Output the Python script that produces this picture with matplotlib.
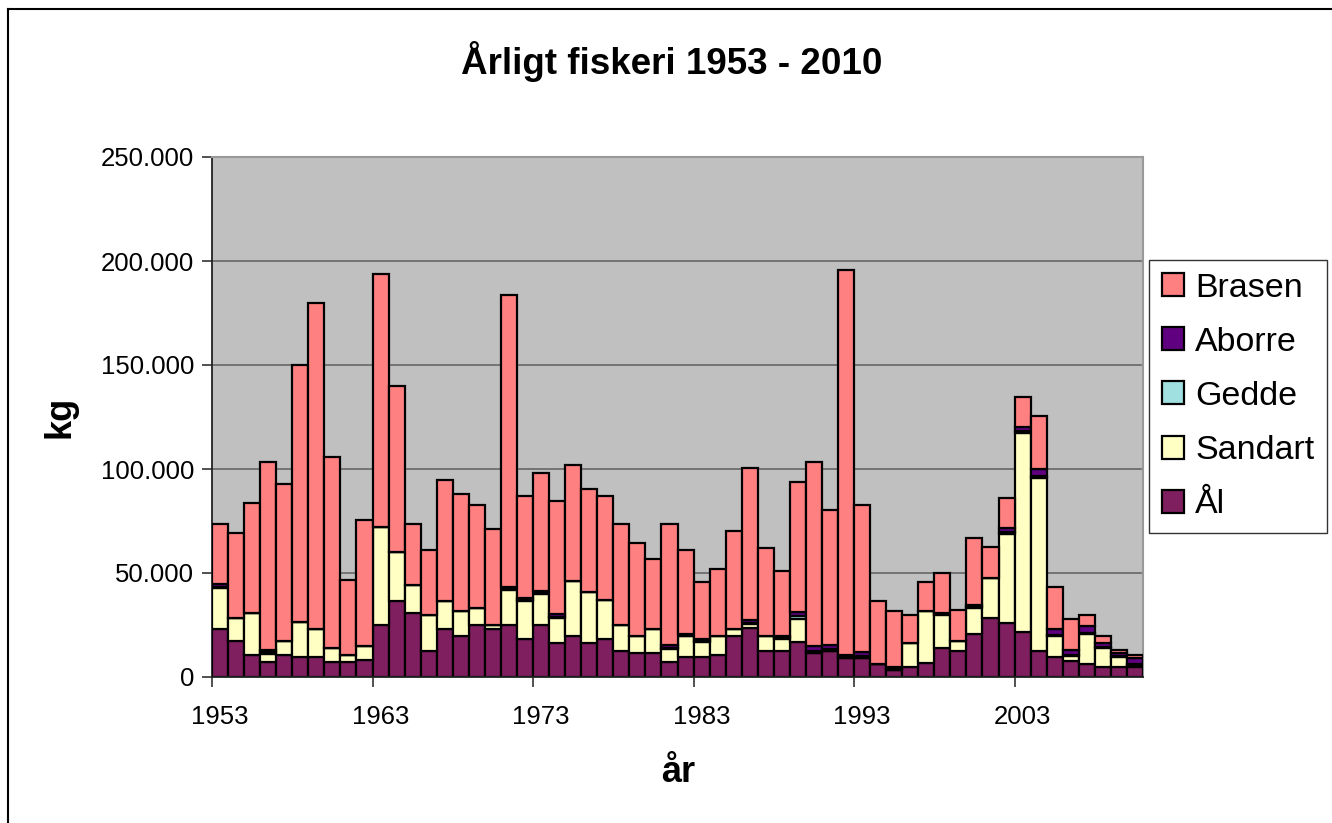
import matplotlib
matplotlib.use("Agg")
import matplotlib.pyplot as plt
import numpy as np
from matplotlib.ticker import FuncFormatter, FixedLocator
from matplotlib.lines import Line2D

plt.rcParams['font.family'] = ['Liberation Sans', 'DejaVu Sans']

years = list(range(1953, 2011))

al = [23100, 17400, 10400, 7100, 10400, 9600, 9600, 7100, 7100, 8300,
      25100, 36700, 30600, 12400, 23100, 19800, 25100, 23100, 25100, 18500,
      25100, 16500, 19800, 16500, 18200, 12400, 11600, 11600, 7100, 9400,
      9400, 10600, 19500, 23600, 12400, 12400, 16900, 11600, 12400, 9100,
      9100, 6300, 3600, 5000, 6900, 14000, 12400, 20700, 28600, 26100,
      21500, 12400, 9600, 7900, 6300, 5000, 5000, 5000]
sandart = [19900, 11200, 20500, 4100, 7000, 16800, 13500, 6900, 3600, 6600,
           47100, 23600, 13500, 17400, 13300, 11900, 8000, 2000, 16600, 17900,
           14600, 11900, 26500, 24300, 19000, 12400, 7900, 11500, 6500, 10100,
           7600, 9200, 3600, 2000, 7400, 5800, 11200, 0, 0, 0,
           0, 0, 0, 11200, 25000, 15800, 5000, 12400, 18800, 42800,
           95900, 83500, 10200, 2000, 14400, 9000, 4600, 800]
gedde = [500, 0, 0, 600, 0, 0, 0, 0, 0, 0,
         0, 0, 0, 0, 0, 0, 0, 0, 500, 500,
         500, 500, 0, 0, 0, 0, 0, 0, 500, 400,
         500, 0, 0, 500, 0, 400, 1000, 1000, 900, 500,
         900, 0, 400, 0, 0, 400, 0, 400, 0, 900,
         900, 600, 500, 500, 500, 400, 300, 400]
aborre = [1000, 0, 0, 1400, 0, 0, 0, 0, 0, 0,
          0, 0, 0, 0, 0, 0, 0, 0, 1100, 1100,
          1100, 1200, 0, 0, 0, 0, 0, 0, 1100, 900,
          1000, 0, 0, 1200, 0, 900, 2000, 2300, 1900, 1100,
          1900, 0, 1000, 0, 0, 700, 0, 900, 0, 1800,
          2000, 3500, 2800, 2800, 3100, 2100, 1700, 2900]
brasen = [29000, 40400, 52900, 90400, 75200, 123600, 156900, 92000, 35900, 60600,
          121500, 79400, 29400, 31400, 58300, 56400, 49500, 46000, 140200, 48800,
          56700, 54700, 55400, 49600, 49900, 48700, 45000, 33400, 58300, 40400,
          27000, 32300, 47100, 73200, 42200, 31700, 62600, 88700, 65000, 185200,
          70700, 30400, 26900, 13600, 13900, 19200, 14800, 32200, 14900, 14400,
          14100, 25300, 20200, 14600, 5500, 3300, 1600, 1600]

series_names = ['Ål', 'Sandart', 'Gedde', 'Aborre', 'Brasen']
series_vals = [al, sandart, gedde, aborre, brasen]
colors = ['#801F60', '#FFFFC4', '#A0E0E0', '#600080', '#FF8080']

title = 'Årligt fiskeri 1953 - 2010'
xlabel_txt = 'år'
ylabel_txt = 'kg'
label_years = [1953, 1963, 1973, 1983, 1993, 2003]

fig = plt.figure(figsize=(13.32, 8.23), dpi=100)
ax = fig.add_axes([212/1332, 1-677/823, (1143-212)/1332, (677-157)/823])
ax.set_facecolor('#C0C0C0')

x = np.arange(len(years))
bottom = np.zeros(len(years))
handles = []
for name, vals, col in zip(series_names, series_vals, colors):
    v = np.array(vals, dtype=float)
    b = ax.bar(x, v, width=1.0, bottom=bottom, color=col, edgecolor='black',
               linewidth=1.6, label=name, zorder=3)
    handles.append(b)
    bottom += v

ax.set_xlim(-0.5, len(years) - 0.5)
ax.set_ylim(0, 250000)
ax.yaxis.set_major_locator(FixedLocator([0, 50000, 100000, 150000, 200000, 250000]))
ax.yaxis.set_major_formatter(FuncFormatter(lambda v, p: f"{int(v):,}".replace(",", ".")))
ax.grid(axis='y', color='#666666', linewidth=1.2, zorder=1)

lab_pos = [years.index(y) for y in label_years]
ax.set_xticks(lab_pos)
ax.set_xticklabels([str(y) for y in label_years])
ax.set_xticks([p - 0.5 for p in lab_pos], minor=True)
ax.tick_params(axis='x', which='major', length=0, pad=20, labelsize=18.5)
ax.tick_params(axis='x', which='minor', length=7, width=1.2, color='#333333')
ax.tick_params(axis='y', which='major', length=7, width=1.2, labelsize=18.5, pad=6, color='#333333')

for s in ['left', 'bottom']:
    ax.spines[s].set_color('#222222')
    ax.spines[s].set_linewidth(1.3)
for s in ['top', 'right']:
    ax.spines[s].set_color('#999999')
    ax.spines[s].set_linewidth(1.5)
ax.spines['bottom'].set_zorder(5)

fig.text(672/1332, 1-62/823, title, ha='center', va='center', fontsize=26.5, fontweight='bold')
fig.text(60/1332, 1-417/823, ylabel_txt, ha='center', va='center', fontsize=26, fontweight='bold', rotation=90)
fig.text(678/1332, 1-773/823, xlabel_txt, ha='center', va='center', fontsize=26, fontweight='bold')

leg = fig.legend(handles[::-1], series_names[::-1], loc='upper left',
                 bbox_to_anchor=(1149/1332, 1-260/823), fontsize=24.5,
                 frameon=True, fancybox=False, edgecolor='black',
                 handlelength=0.66, handleheight=0.66, handletextpad=0.33,
                 labelspacing=0.68, borderpad=0.37, borderaxespad=0)
leg.get_frame().set_linewidth(1.0)

fig.add_artist(Line2D([8/1332, 1], [1-9/823, 1-9/823], color='black', linewidth=1.5))
fig.add_artist(Line2D([8/1332, 8/1332], [0, 1-9/823], color='black', linewidth=1.5))

fig.savefig('out.png', dpi=100, facecolor='white')
